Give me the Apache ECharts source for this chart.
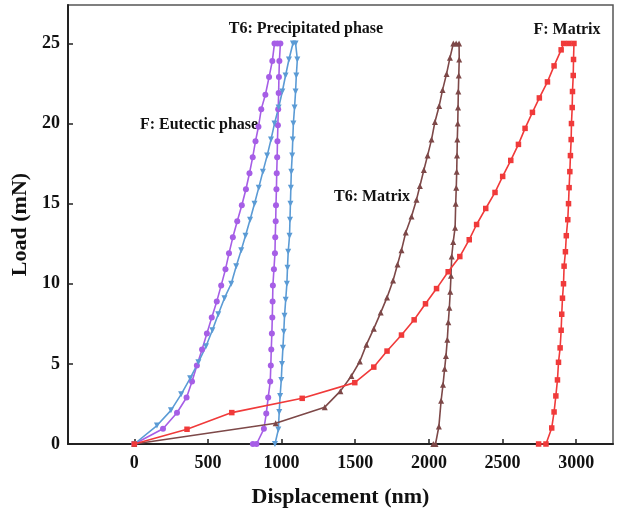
<!DOCTYPE html>
<html>
<head>
<meta charset="utf-8">
<script src="https://cdn.jsdelivr.net/npm/echarts@6/dist/echarts.min.js"></script>
<style>
html,body{margin:0;padding:0;background:#fff;}
#chart{width:618px;height:514px;}
</style>
</head>
<body>
<div id="chart"></div>
<script>
//刻度
var xTicks=[0,500,1000,1500,2000,2500,3000];
var yTicks=[0,5,10,15,20,25];
//F: Eutectic phase
var eutecticX=[0,195,290,355,392,425,460,493,526,560,590,619,643,669,699,730,758,782,804,823,843,862,890,915,937,952,972,992,
    985,982,980,977,975,972,970,967,965,962,960,957,955,948,941,939,937,934,930,927,923,909,896,880,830,805];
var eutecticY=[0,0.95,1.95,2.9,3.9,4.9,5.9,6.9,7.9,8.9,9.9,10.9,11.9,12.9,13.9,14.9,15.9,16.9,17.9,18.9,19.8,20.9,21.8,22.9,23.9,25,25,25,
    23.9,22.9,21.9,20.9,19.9,18.9,17.9,16.9,15.9,14.9,13.9,12.9,11.9,10.9,9.9,8.9,7.9,6.9,5.9,4.9,3.9,2.9,1.9,0.95,0,0];
//T6: Precipitated phase
var precipX=[0,154,249,318,379,435,487,530,570,612,658,692,726,755,786,816,845,873,902,928,952,980,1005,1027,1050,1077,1095,
    1107,1100,1095,1088,1080,1076,1072,1066,1063,1060,1057,1054,1045,1040,1036,1028,1020,1015,1009,1003,998,990,984,978,955];
var precipY=[0,1.15,2.1,3.1,4.1,5.1,6.1,7.1,8.1,9.1,10,11.1,12.1,13,14,15,16,17,18,19,20,21,22,23,24,25,25,
    24,23,22,21,20,19,18,17,16,15,14,13,12,11,10,9,8,7,6,5,4,3,2,0.9,0];
//T6: Matrix
var t6MatrixX=[0,960,1293,1399,1474,1531,1576,1626,1673,1716,1757,1787,1814,1843,1882,1916,1939,1966,1991,2018,2041,2070,2093,2120,2143,2166,2185,2205,
    2206,2203,2200,2198,2196,2193,2191,2189,2186,2182,2178,2165,2155,2150,2145,2139,2132,2125,2116,2107,2096,2083,2068,2045,2030];
var t6MatrixY=[0,1.3,2.3,3.3,4.25,5.15,6.2,7.2,8.2,9.15,10.2,11.2,12.1,13.2,14.2,15.25,16.1,17.1,18,19,20.1,21.1,22.1,23.1,24.1,25,25,25,
    24,23,22,21,20,19,18,17,16,15,13.5,12.6,11.7,10.5,9.5,8.5,7.6,6.5,5.5,4.7,3.7,2.7,1.1,0,0];
//F: Matrix
var fMatrixX=[0,358,662,1140,1497,1626,1716,1814,1900,1977,2052,2131,2210,2274,2324,2386,2449,2501,2556,2608,2653,2703,2750,2805,2850,2898,2915,2950,2985,
    2982,2980,2975,2973,2968,2966,2961,2957,2952,2948,2943,2933,2927,2918,2914,2907,2902,2898,2891,2880,2873,2862,2850,2834,2795,2745];
var fMatrixY=[0,0.92,1.96,2.85,3.83,4.8,5.8,6.8,7.75,8.75,9.7,10.75,11.7,12.75,13.7,14.7,15.7,16.7,17.7,18.7,19.7,20.7,21.6,22.6,23.6,24.6,25,25,25,
    24,23,22,21,20,19,18,17,16,15,14,13,12,11.1,10,9.1,8.1,7.1,6,5.1,4,3,2,1,0,0];

var curveNames=['F: Eutectic phase','T6: Precipitated phase','T6: Matrix','F: Matrix'];
var curveColor=['#a65ee6','#5b9bd5','#7d4848','#f03a3a'];
var curveSymbol=['circle','triangle','triangle','rect'];
var curveRotate=[0,180,0,0];
var serif='"Liberation Serif","Times New Roman",serif';

function pairs(xs,ys){
    var arr=[];
    for(var i=0;i<xs.length;i++){
        arr.push([xs[i],ys[i]]);
    }
    return arr;
}
//系列
function seriesData(){
    var all=[pairs(eutecticX,eutecticY),pairs(precipX,precipY),pairs(t6MatrixX,t6MatrixY),pairs(fMatrixX,fMatrixY)];
    var seriesArr=[];
    for(var i=0;i<all.length;i++){
        seriesArr.push({
            name:curveNames[i],
            type:'line',
            data:all[i],
            symbol:curveSymbol[i],
            symbolRotate:curveRotate[i],
            symbolSize:curveSymbol[i]=='rect'?5.5:6,
            lineStyle:{color:curveColor[i],width:1.6},
            itemStyle:{color:curveColor[i]},
            animation:false
        });
    }
    return seriesArr;
}
function label(txt,x,y){
    return {
        type:'text',
        x:x,y:y,
        style:{text:txt,font:'bold 16px '+serif,fill:'#111',align:'center',verticalAlign:'middle'}
    };
}
var chart=echarts.init(document.getElementById('chart'));
var option={
    backgroundColor:'#fff',
    grid:{left:68,right:5,top:5,bottom:70,show:true,borderColor:'#555',borderWidth:1.5},
    xAxis:{
        type:'value',
        min:-450,max:3250,
        name:'Displacement (nm)',
        nameLocation:'middle',
        nameGap:42,
        nameTextStyle:{fontFamily:serif,fontWeight:'bold',fontSize:22,color:'#111'},
        axisLine:{onZero:false,lineStyle:{color:'#222',width:2}},
        axisTick:{inside:true,length:5,customValues:xTicks,lineStyle:{color:'#222',width:1.5}},
        axisLabel:{customValues:xTicks,formatter:function(v){return String(v);},fontFamily:serif,fontWeight:'bold',fontSize:18,color:'#111',margin:10},
        splitLine:{show:false}
    },
    yAxis:{
        type:'value',
        min:0,max:27.4,
        name:'Load (mN)',
        nameLocation:'middle',
        nameGap:32,
        nameTextStyle:{fontFamily:serif,fontWeight:'bold',fontSize:22,color:'#111'},
        axisLine:{show:true,onZero:false,lineStyle:{color:'#222',width:2}},
        axisTick:{show:true,inside:true,length:5,customValues:yTicks,lineStyle:{color:'#222',width:1.5}},
        axisLabel:{customValues:yTicks,formatter:function(v){return String(v);},fontFamily:serif,fontWeight:'bold',fontSize:18,color:'#111',margin:8},
        splitLine:{show:false}
    },
    graphic:[
        label('T6: Precipitated phase',306,29),
        label('F: Matrix',567,30),
        label('F: Eutectic phase',199,125),
        label('T6: Matrix',372,197)
    ],
    series:seriesData()
};
chart.setOption(option);
</script>
</body>
</html>
